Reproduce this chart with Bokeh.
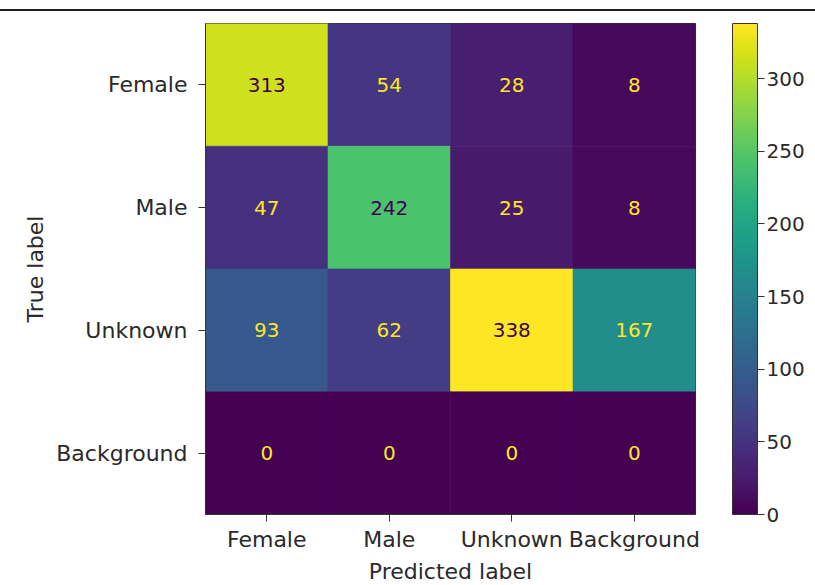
from bokeh.plotting import figure
from bokeh.models import (ColumnDataSource, LinearColorMapper, ColorBar, FixedTicker,
                          FactorRange, CategoricalAxis)
from bokeh.palettes import Viridis256
from bokeh.embed import file_html
from bokeh.resources import INLINE
from bokeh.core.properties import value

# ---- data ----
class_labels = ["Female", "Male", "Unknown", "Background"]
row_female = [313, 54, 28, 8]
row_male = [47, 242, 25, 8]
row_unknown = [93, 62, 338, 167]
row_background = [0, 0, 0, 0]
colorbar_ticks = [0, 50, 100, 150, 200, 250, 300]
x_title = "Predicted label"
y_title = "True label"

rows = [row_female, row_male, row_unknown, row_background]
vmin = min(min(r) for r in rows)
vmax = max(max(r) for r in rows)
thresh = (vmin + vmax) / 2.0

true_col, pred_col, vals, txt, txt_col = [], [], [], [], []
for ti, r in enumerate(rows):
    for pi, v in enumerate(r):
        true_col.append(class_labels[ti])
        pred_col.append(class_labels[pi])
        vals.append(v)
        txt.append(str(v))
        txt_col.append(Viridis256[0] if v > thresh else Viridis256[-1])

src = ColumnDataSource(dict(true=true_col, pred=pred_col, value=vals, text=txt, tcol=txt_col))

FONT = "DejaVu Sans"
TXT = "#2a2a2a"
LBL = "22px"

mapper = LinearColorMapper(palette=Viridis256, low=vmin, high=vmax)

p = figure(
    x_range=FactorRange(*class_labels),
    y_range=FactorRange(*class_labels[::-1]),
    frame_width=490, frame_height=491,
    min_border_left=205, min_border_top=12, min_border_right=120, min_border_bottom=10,
    output_backend="svg", toolbar_location=None,
)
p.styles = {"margin-top": "9px", "border-top": "2px solid #1e1e1e"}

p.rect(x="pred", y="true", width=1, height=1, source=src,
       fill_color={"field": "value", "transform": mapper},
       line_color={"field": "value", "transform": mapper}, line_width=0.6)

p.text(x="pred", y="true", text="text", source=src, text_color="tcol",
       text_align="center", text_baseline="middle",
       text_font=value(FONT), text_font_size="20px")

p.grid.visible = False
p.outline_line_color = "#333333"
p.outline_line_width = 1
p.background_fill_color = "white"

for ax in (p.xaxis[0], p.yaxis[0]):
    ax.major_label_text_font = FONT
    ax.major_label_text_font_size = LBL
    ax.major_label_text_color = TXT
    ax.axis_label_text_font = FONT
    ax.axis_label_text_font_size = LBL
    ax.axis_label_text_font_style = "normal"
    ax.axis_label_text_color = TXT
    ax.axis_line_color = "#333333"
    ax.major_tick_line_color = "#333333"
    ax.major_tick_out = 7
    ax.major_tick_in = 0
    ax.minor_tick_line_color = None

p.xaxis.axis_label = x_title
p.yaxis.axis_label = y_title
p.xaxis.major_label_standoff = 5
p.xaxis.axis_label_standoff = 4
p.yaxis.major_label_standoff = 11
p.yaxis.axis_label_standoff = 5
p.yaxis.major_label_orientation = "horizontal"

# invisible spacer between the heatmap and the colour bar
spacer = CategoricalAxis(axis_line_color=None, major_tick_line_color=None,
                         minor_tick_line_color=None, major_tick_out=37, major_tick_in=0,
                         minor_tick_out=0, major_label_standoff=0,
                         major_label_text_font_size="0px", major_label_text_alpha=0)
p.add_layout(spacer, "right")

cb = ColorBar(
    color_mapper=mapper,
    ticker=FixedTicker(ticks=colorbar_ticks),
    width=25,
    padding=0,
    margin=0,
    major_label_text_font=FONT,
    major_label_text_font_size="20px",
    major_label_text_color=TXT,
    major_tick_out=7,
    major_tick_in=0,
    major_tick_line_color="#333333",
    bar_line_color="#333333",
    label_standoff=2,
    background_fill_color=None,
)
p.add_layout(cb, "right")

open("out.html", "w").write(file_html(p, INLINE))
